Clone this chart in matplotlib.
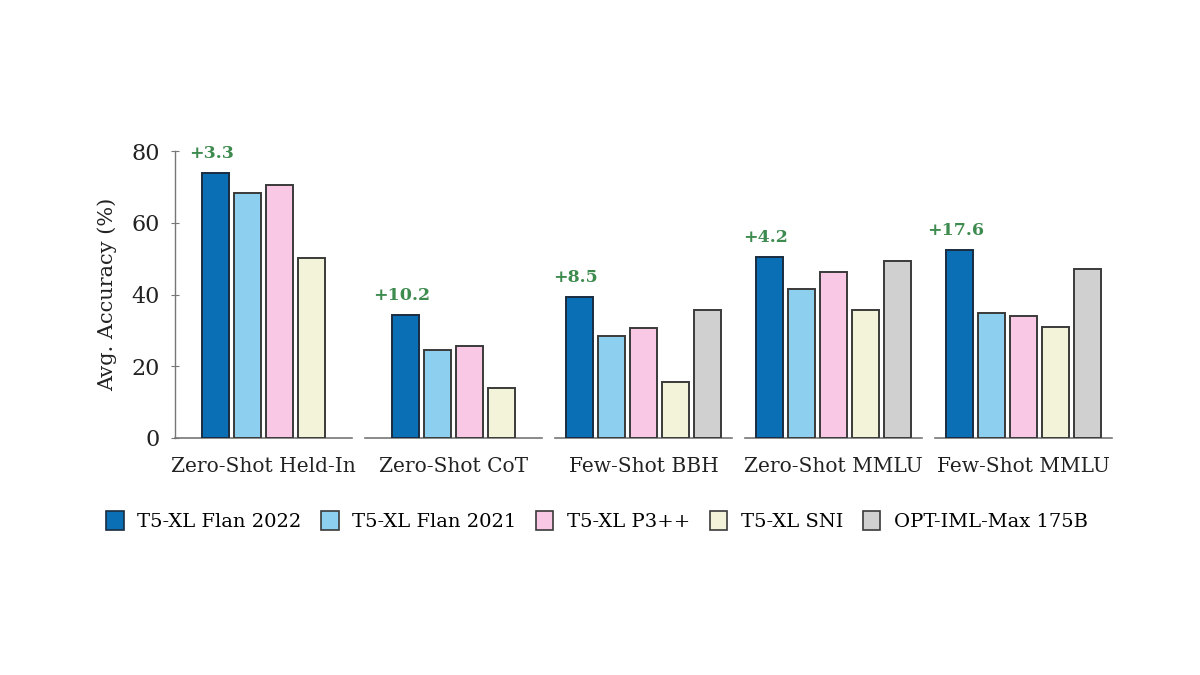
import matplotlib
matplotlib.use("Agg")
import matplotlib.pyplot as plt
from matplotlib.patches import Patch

plt.rcParams['font.family'] = ['DejaVu Serif']

groups = ["Zero-Shot Held-In", "Zero-Shot CoT", "Few-Shot BBH", "Zero-Shot MMLU", "Few-Shot MMLU"]
models = ["T5-XL Flan 2022", "T5-XL Flan 2021", "T5-XL P3++", "T5-XL SNI", "OPT-IML-Max 175B"]
flan2022 = [73.8, 34.3, 39.4, 50.4, 52.5]
flan2021 = [68.4, 24.6, 28.3, 41.4, 34.8]
p3pp = [70.5, 25.6, 30.8, 46.3, 34.1]
sni = [50.3, 13.9, 15.6, 35.7, 31.0]
optiml = [None, None, 35.7, 49.2, 47.1]
gains = ["+3.3", "+10.2", "+8.5", "+4.2", "+17.6"]
yticks = [0, 20, 40, 60, 80]

colors = ["#0a6fb5", "#8ccfee", "#f9c8e4", "#f3f3d9", "#d0d0d0"]
edges = ["#1a2c40", "#3a3a3a", "#3a3a3a", "#3a3a3a", "#3a3a3a"]
green = "#3e8b4f"
series = [flan2022, flan2021, p3pp, sni, optiml]

fig = plt.figure(figsize=(12, 6.75), dpi=100)
W, H = 1200, 675
ax_w = 177
lefts = [175, 365, 555, 745, 935]
bottom_px, top_px = 438, 151

xlo, xhi = -0.766, 4.766
bw = 0.86
for gi, g in enumerate(groups):
    ax = fig.add_axes([lefts[gi] / W, (H - bottom_px) / H, ax_w / W, (bottom_px - top_px) / H])
    vals = [s[gi] for s in series]
    present = [i for i, v in enumerate(vals) if v is not None]
    off = (5 - len(present)) / 2.0
    for k, i in enumerate(present):
        ax.bar(k + off, vals[i], width=bw, color=colors[i], edgecolor=edges[i], linewidth=1.4, zorder=3)
    ax.annotate(gains[gi], xy=(off, flan2022[gi]), xytext=(-3, 14), textcoords='offset points',
                ha='center', va='center', color=green, fontsize=12.5, fontweight='bold',
                annotation_clip=False)
    ax.set_xlim(xlo, xhi)
    ax.set_ylim(0, 80)
    ax.set_xticks([])
    ax.set_xlabel(g, fontsize=14.5, color="#222222", labelpad=14)
    for s in ['top', 'right']:
        ax.spines[s].set_visible(False)
    ax.spines['bottom'].set_color('#777777')
    ax.spines['bottom'].set_linewidth(1.2)
    if gi == 0:
        ax.spines['left'].set_color('#777777')
        ax.spines['left'].set_linewidth(1.0)
        ax.set_yticks(yticks)
        ax.tick_params(axis='y', direction='inout', length=6, color='#777777', labelsize=16, labelcolor='#222222', pad=8)
        ax.set_ylabel("Avg. Accuracy (%)", fontsize=15, color="#222222", labelpad=10)
    else:
        ax.spines['left'].set_visible(False)
        ax.set_yticks([])
    ax.patch.set_alpha(0)

handles = [Patch(facecolor=colors[i], edgecolor=edges[i], linewidth=1.2, label=models[i]) for i in range(5)]
fig.legend(handles=handles, loc='center', bbox_to_anchor=(597 / W, (H - 521) / H), ncol=5, frameon=False,
           fontsize=14, handlelength=0.9, handleheight=1.1, handletextpad=0.7, columnspacing=1.0)

fig.savefig("out.png", dpi=100)
